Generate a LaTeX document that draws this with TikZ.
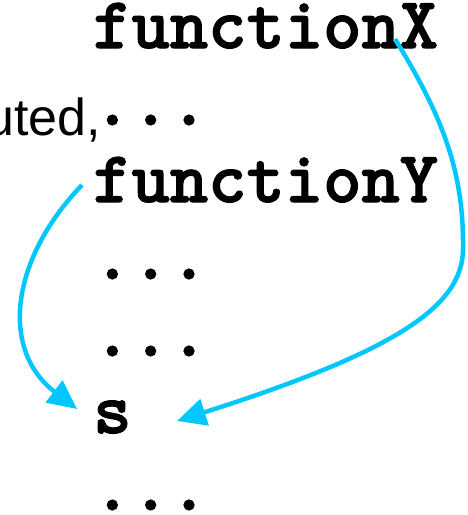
\documentclass[tikz,border=0pt]{standalone}
\usepackage{fontspec}
\setsansfont{Liberation Sans}
\newfontfamily\codefont{lmmonolt10-bold.otf}[FakeBold=1.6]
\usetikzlibrary{arrows.meta}
\definecolor{bleuciel}{RGB}{0,200,255}

\begin{document}
\begin{tikzpicture}[x=1pt,y=-1pt,
	code/.style={anchor=base west,inner sep=0pt,font=\codefont\fontsize{73}{86}\selectfont},
	fleche/.style={color=bleuciel,line width=4.5pt,-{Triangle[length=29pt,width=27pt]}}]
	\clip (0,0) rectangle (467,515); % cadre de la figure
	\node[code] (fx) at (93,48) {functionX};
	\node[code] (d1) at (93,125) {...};
	\node[code] (fy) at (93,202) {functionY};
	\node[code] (d2) at (93,279) {...};
	\node[code] (d3) at (93,356) {...};
	\node[code] (s) at (93,433) {s};
	\node[code] (d4) at (93,510) {...};
	\node[anchor=base east,inner sep=0pt,font=\sffamily\fontsize{52}{62}\selectfont] (txt) at (101,135) {uted,};
	% les deux appels
	\draw[fleche] ([shift={(302,-9)}]fx.base west) .. controls (445,120) and (464,175) .. (463,250)
		.. controls (462,305) and (400,350) .. ([shift={(84,-12)}]s.base west);
	\draw[fleche] ([shift={(-11,-17)}]fy.base west) .. controls (10,260) and (0,350) .. ([shift={(-16,-24)}]s.base west);
\end{tikzpicture}
\end{document}
